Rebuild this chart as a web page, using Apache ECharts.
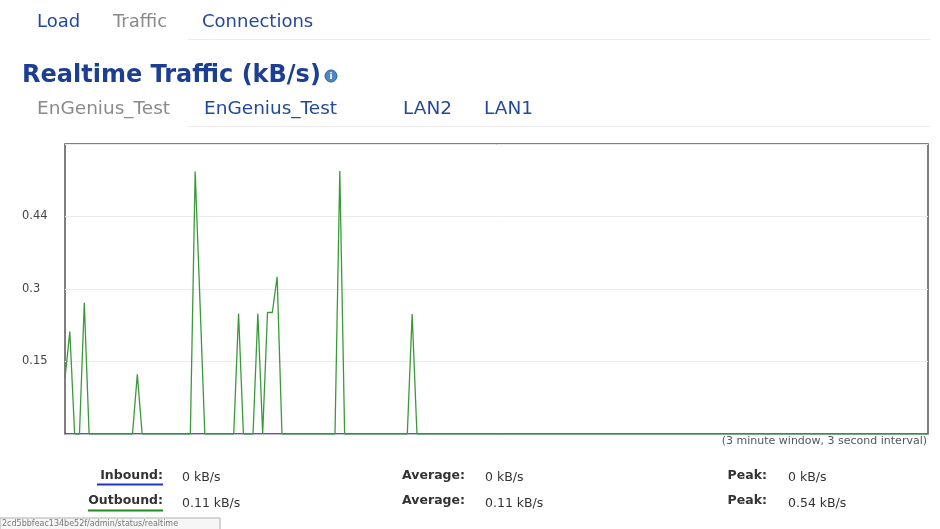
<!DOCTYPE html>
<html>
<head>
<meta charset="utf-8">
<script src="https://cdn.jsdelivr.net/npm/echarts@6/dist/echarts.min.js"></script>
<style>
html,body{margin:0;padding:0;background:#fff;}
#chart{width:940px;height:529px;}
</style>
</head>
<body>
<div id="chart"></div>
<script>
// Outbound (green) samples, one per step across the window
var outbound = [
  0.114, 0.209, 0, 0, 0.268, 0, 0, 0, 0, 0,
  0, 0, 0, 0, 0, 0.122, 0, 0, 0, 0,
  0, 0, 0, 0, 0, 0, 0, 0.536, 0.27, 0,
  0, 0, 0, 0, 0, 0, 0.246, 0, 0, 0,
  0.246, 0, 0.248, 0.248, 0.321, 0, 0, 0, 0, 0,
  0, 0, 0, 0, 0, 0, 0, 0.537, 0, 0,
  0, 0, 0, 0, 0, 0, 0, 0, 0, 0,
  0, 0, 0.245, 0, 0, 0, 0, 0, 0, 0,
  0, 0, 0, 0, 0, 0, 0, 0, 0, 0,
  0, 0, 0, 0, 0, 0, 0, 0, 0, 0,
  0, 0, 0, 0, 0, 0, 0, 0, 0, 0,
  0, 0, 0, 0, 0, 0, 0, 0, 0, 0,
  0, 0, 0, 0, 0, 0, 0, 0, 0, 0,
  0, 0, 0, 0, 0, 0, 0, 0, 0, 0,
  0, 0, 0, 0, 0, 0, 0, 0, 0, 0,
  0, 0, 0, 0, 0, 0, 0, 0, 0, 0,
  0, 0, 0, 0, 0, 0, 0, 0, 0, 0,
  0, 0, 0, 0, 0, 0, 0, 0, 0, 0
];
// Inbound (blue) samples
var inbound = [
  0, 0, 0, 0, 0, 0, 0, 0, 0, 0,
  0, 0, 0, 0, 0, 0, 0, 0, 0, 0,
  0, 0, 0, 0, 0, 0, 0, 0, 0, 0,
  0, 0, 0, 0, 0, 0, 0, 0, 0, 0,
  0, 0, 0, 0, 0, 0, 0, 0, 0, 0,
  0, 0, 0, 0, 0, 0, 0, 0, 0, 0,
  0, 0, 0, 0, 0, 0, 0, 0, 0, 0,
  0, 0, 0, 0, 0, 0, 0, 0, 0, 0,
  0, 0, 0, 0, 0, 0, 0, 0, 0, 0,
  0, 0, 0, 0, 0, 0, 0, 0, 0, 0,
  0, 0, 0, 0, 0, 0, 0, 0, 0, 0,
  0, 0, 0, 0, 0, 0, 0, 0, 0, 0,
  0, 0, 0, 0, 0, 0, 0, 0, 0, 0,
  0, 0, 0, 0, 0, 0, 0, 0, 0, 0,
  0, 0, 0, 0, 0, 0, 0, 0, 0, 0,
  0, 0, 0, 0, 0, 0, 0, 0, 0, 0,
  0, 0, 0, 0, 0, 0, 0, 0, 0, 0,
  0, 0, 0, 0, 0, 0, 0, 0, 0, 0
];
var yMax = 0.592;
var yStep = 0.148;
var tabs = ['Load', 'Traffic', 'Connections'];
var subTabs = ['EnGenius_Test', 'EnGenius_Test', 'LAN2', 'LAN1'];
var statsInbound = {now: '0 kB/s', avg: '0 kB/s', peak: '0 kB/s'};
var statsOutbound = {now: '0.11 kB/s', avg: '0.11 kB/s', peak: '0.54 kB/s'};

var chart = echarts.init(document.getElementById('chart'), null, {renderer: 'canvas'});

function pairs(arr) { return arr.map(function (v, i) { return [i, v]; }); }

var BLUE = '#24489a';
var GRAY = '#8a8a8a';
var F = 'DejaVu Sans, Verdana, sans-serif';

function txt(x, y, s, font, fill, align) {
  return {type: 'text', x: x, y: y, silent: true,
    style: {text: s, font: font, fill: fill, textAlign: align || 'left', textVerticalAlign: 'middle'}};
}
function hline(x1, x2, y, color, w) {
  return {type: 'line', silent: true, shape: {x1: x1, y1: y, x2: x2, y2: y}, style: {stroke: color, lineWidth: w || 1}};
}

var graphics = [
  // faint separators
  hline(188, 930, 39.5, '#ececec', 1),
  hline(188, 930, 126.5, '#ececec', 1),
  // tabs
  txt(37, 22.5, tabs[0], '18px ' + F, BLUE),
  txt(113, 22.5, tabs[1], '18px ' + F, GRAY),
  txt(202, 22.5, tabs[2], '18px ' + F, BLUE),
  // title
  txt(22, 75.5, 'Realtime Traffic (kB/s)', 'bold 24px ' + F, '#1d3f93'),
  {type: 'circle', silent: true, shape: {cx: 331, cy: 76, r: 6}, style: {fill: '#4f86c6', stroke: '#2c5e9e', lineWidth: 1}},
  txt(331, 76.5, 'i', 'bold 9px ' + F, '#fff', 'center'),
  // sub tabs
  txt(37, 109.5, subTabs[0], '18.5px ' + F, GRAY),
  txt(204, 109.5, subTabs[1], '18.5px ' + F, BLUE),
  txt(403, 109.5, subTabs[2], '18.5px ' + F, BLUE),
  txt(484, 109.5, subTabs[3], '18.5px ' + F, BLUE),
  // footnote
  txt(927, 441, '(3 minute window, 3 second interval)', '11px ' + F, '#555', 'right'),
  // stats rows
  txt(163, 476, 'Inbound:', 'bold 12.5px ' + F, '#333', 'right'),
  hline(97, 163, 484.5, '#2233cc', 2),
  txt(182, 478, statsInbound.now, '12.5px ' + F, '#333'),
  txt(465, 476, 'Average:', 'bold 12.5px ' + F, '#333', 'right'),
  txt(485, 478, statsInbound.avg, '12.5px ' + F, '#333'),
  txt(767, 476, 'Peak:', 'bold 12.5px ' + F, '#333', 'right'),
  txt(788, 478, statsInbound.peak, '12.5px ' + F, '#333'),
  txt(163, 501, 'Outbound:', 'bold 12.5px ' + F, '#333', 'right'),
  hline(88, 163, 510.5, '#228822', 2),
  txt(182, 504, statsOutbound.now, '12.5px ' + F, '#333'),
  txt(465, 501, 'Average:', 'bold 12.5px ' + F, '#333', 'right'),
  txt(485, 504, statsOutbound.avg, '12.5px ' + F, '#333'),
  txt(767, 501, 'Peak:', 'bold 12.5px ' + F, '#333', 'right'),
  txt(788, 504, statsOutbound.peak, '12.5px ' + F, '#333'),
  // status bar
  {type: 'rect', silent: true, shape: {x: 0, y: 518, width: 220, height: 12}, style: {fill: '#f6f6f6', stroke: '#b0b0b0', lineWidth: 1}},
  txt(2, 524, '2cd5bbfeac134be52f/admin/status/realtime', '8px ' + F, '#777')
];

var option = {
  animation: false,
  backgroundColor: '#ffffff',
  grid: {left: 65, right: 12, top: 144, bottom: 95, show: true, borderColor: '#555', borderWidth: 1.5, backgroundColor: 'transparent', containLabel: false},
  xAxis: {type: 'value', min: 0, max: outbound.length - 1,
    axisLine: {show: false}, axisTick: {show: false}, axisLabel: {show: false}, splitLine: {show: false}},
  yAxis: {type: 'value', min: 0, max: yMax, interval: yStep,
    axisLine: {show: false}, axisTick: {show: false},
    splitLine: {show: true, lineStyle: {color: '#ebebeb', width: 1}},
    axisLabel: {align: 'left', margin: 43, color: '#444', fontFamily: F, fontSize: 11.5,
      formatter: function (v) { if (v === 0 || v > yMax - 0.01) return ''; return String(Math.round(v * 100) / 100); }}},
  series: [
    {name: 'Inbound', type: 'line', data: pairs(inbound), showSymbol: false, symbol: 'none',
      lineStyle: {color: '#3030d0', width: 1.2}, z: 2},
    {name: 'Outbound', type: 'line', data: pairs(outbound), showSymbol: false, symbol: 'none',
      lineStyle: {color: '#3a9a3a', width: 1.3}, z: 3}
  ],
  graphic: graphics
};
chart.setOption(option);
</script>
</body>
</html>
